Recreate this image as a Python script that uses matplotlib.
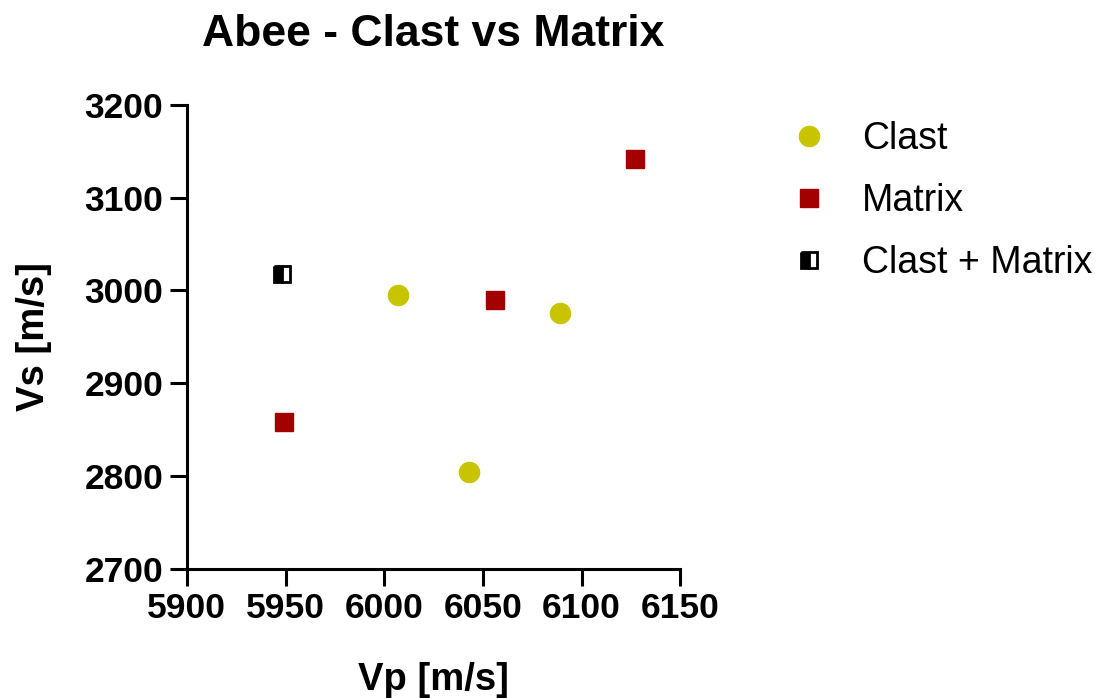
import matplotlib.pyplot as plt

plt.rcParams['font.family'] = ['Liberation Sans', 'DejaVu Sans']

# Dados
clast_vp = [6007, 6089, 6043]
clast_vs = [2995, 2976, 2804]
matrix_vp = [5949, 6056, 6127]
matrix_vs = [2858, 2990, 3141]
mix_vp = [5948]
mix_vs = [3018]

xticks = [5900, 5950, 6000, 6050, 6100, 6150]
yticks = [2700, 2800, 2900, 3000, 3100, 3200]

cor_clast = '#C8C400'
cor_matrix = '#A30000'

fig = plt.figure(figsize=(10.99, 6.98), dpi=100)
ax = fig.add_axes([0.170, 0.185, 0.449, 0.665])

ax.plot(clast_vp, clast_vs, 'o', ms=14.5, color=cor_clast, mec=cor_clast, label='Clast')
ax.plot(matrix_vp, matrix_vs, 's', ms=13.5, color=cor_matrix, mec=cor_matrix, label='Matrix')
ax.plot(mix_vp, mix_vs, 's', ms=11.5, fillstyle='left', markerfacecolor='black',
        markerfacecoloralt='white', markeredgecolor='black', mew=2, label='Clast + Matrix')

ax.set_xlim(5900, 6150)
ax.set_ylim(2700, 3200)
ax.set_xticks(xticks)
ax.set_yticks(yticks)

for s in ['top', 'right']:
    ax.spines[s].set_visible(False)
for s in ['left', 'bottom']:
    ax.spines[s].set_linewidth(2.2)

ax.tick_params(direction='out', length=12, width=2.2, labelsize=25.5, pad=5)
for lbl in ax.get_xticklabels() + ax.get_yticklabels():
    lbl.set_fontweight('bold')

ax.set_xlabel('Vp [m/s]', fontsize=27.5, fontweight='bold', labelpad=26.5)
ax.set_ylabel('Vs [m/s]', fontsize=27.5, fontweight='bold', labelpad=23)
ax.set_title('Abee - Clast vs Matrix', fontsize=32, fontweight='bold', pad=42)

handles, labels = ax.get_legend_handles_labels()
fig.legend(handles, labels, loc='upper left', bbox_to_anchor=(0.692, 0.875),
           frameon=False, fontsize=27, handletextpad=1.0, labelspacing=0.69,
           handlelength=0.8)

fig.savefig('out.png', dpi=100)
